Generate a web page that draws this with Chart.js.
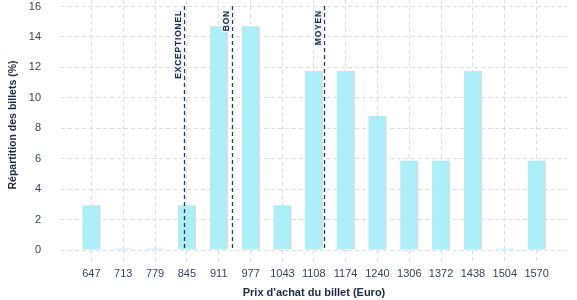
<!DOCTYPE html>
<html>
<head>
<meta charset="utf-8">
<script src="https://cdn.jsdelivr.net/npm/chart.js@4"></script>
<style>
html,body{margin:0;padding:0;background:#fff;}
#wrap{width:577px;height:300px;position:relative;}
</style>
</head>
<body>
<div id="wrap"><canvas id="c" width="577" height="300"></canvas></div>
<script>
// Data
const categories = [647, 713, 779, 845, 911, 977, 1043, 1108, 1174, 1240, 1306, 1372, 1438, 1504, 1570];
const shares = [2.94, 0, 0, 2.94, 14.71, 14.71, 2.94, 11.76, 11.76, 8.82, 5.88, 5.88, 11.76, 0, 5.88];
const yTicks = [0, 2, 4, 6, 8, 10, 12, 14, 16];
const thresholdNames = ['EXCEPTIONEL', 'BON', 'MOYEN'];
const thresholdPrices = [838, 938, 1130];

const FONT = "'Liberation Sans', Arial, Helvetica, sans-serif";
const NAVY = '#1e2b45';
const TICK = '#3a4357';

const thresholdPlugin = {
  id: 'thresholds',
  afterDatasetsDraw(chart) {
    const {ctx, chartArea, scales} = chart;
    ctx.save();
    thresholdPrices.forEach((p, i) => {
      const x = Math.round(scales.x.getPixelForValue(p)) + 0.5;
      ctx.beginPath();
      ctx.setLineDash([4, 3]);
      ctx.strokeStyle = '#2b3a55';
      ctx.lineWidth = 1.3;
      ctx.moveTo(x, chartArea.top + 6);
      ctx.lineTo(x, chartArea.bottom);
      ctx.stroke();
      ctx.setLineDash([]);
      ctx.save();
      ctx.translate(x - 5.5, chartArea.top + 10);
      ctx.rotate(-Math.PI / 2);
      ctx.font = 'bold 8.5px ' + FONT;
      try { ctx.letterSpacing = '0.8px'; } catch (e) {}
      ctx.textAlign = 'right';
      ctx.textBaseline = 'middle';
      const w = ctx.measureText(thresholdNames[i]).width;
      ctx.fillStyle = 'rgba(238,243,250,0.9)';
      ctx.fillRect(-w - 1, -5, w + 1, 10);
      ctx.fillStyle = NAVY;
      ctx.fillText(thresholdNames[i], 0, 0);
      ctx.restore();
    });
    ctx.restore();
  }
};

function zeroPad(s) { s.paddingLeft = 0; s.paddingRight = 0; s.paddingTop = 0; s.paddingBottom = 0; }

new Chart(document.getElementById('c'), {
  type: 'bar',
  data: {
    datasets: [{
      data: categories.map((c, i) => ({x: c, y: shares[i]})),
      backgroundColor: '#adeef8',
      borderColor: '#dcdcdc',
      borderWidth: {top: 0, right: 1.5, bottom: 0, left: 0},
      borderSkipped: false,
      barThickness: 18,
      minBarLength: 1.5
    }]
  },
  options: {
    responsive: false,
    animation: false,
    devicePixelRatio: 1,
    layout: {padding: {left: 0, right: 10, top: 0, bottom: 0}},
    plugins: {legend: {display: false}, tooltip: {enabled: false}},
    scales: {
      x: {
        type: 'linear',
        offset: false,
        min: 584,
        max: 1633,
        afterBuildTicks: s => { s.ticks = categories.map(v => ({value: v})); },
        afterFit: s => { s.height = 50; zeroPad(s); },
        border: {display: false, dash: [4, 3]},
        grid: {
          offset: false,
          color: '#dedede',
          tickBorderDash: [4, 3],
          tickColor: '#dedede',
          tickLength: 12,
          lineWidth: 1
        },
        ticks: {
          callback: v => String(v),
          color: TICK,
          font: {family: FONT, size: 11},
          padding: 5,
          maxRotation: 0,
          autoSkip: false
        },
        title: {
          display: true,
          text: "Prix d'achat du billet (Euro)",
          color: NAVY,
          font: {family: FONT, size: 11, weight: 'bold'},
          padding: {top: 0, bottom: 0}
        }
      },
      y: {
        min: 0,
        max: 16.43,
        afterBuildTicks: s => { s.ticks = yTicks.map(v => ({value: v})); },
        afterFit: s => { s.width = 61; zeroPad(s); },
        border: {display: false, dash: [4, 3]},
        grid: {
          color: '#dedede',
          drawTicks: false,
          lineWidth: 1
        },
        ticks: {
          color: TICK,
          font: {family: FONT, size: 11},
          padding: 20
        },
        title: {
          display: true,
          text: 'Répartition des billets (%)',
          color: NAVY,
          font: {family: FONT, size: 10.5, weight: 'bold'},
          padding: {top: 7, bottom: 0}
        }
      }
    }
  },
  plugins: [thresholdPlugin]
});
</script>
</body>
</html>
